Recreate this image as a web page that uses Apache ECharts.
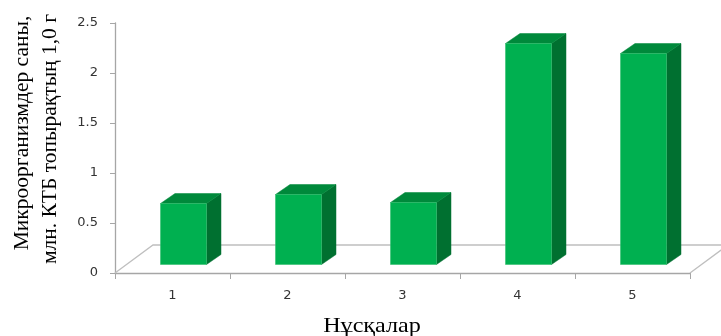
<!DOCTYPE html>
<html>
<head>
<meta charset="utf-8">
<script src="https://cdn.jsdelivr.net/npm/echarts@6/dist/echarts.min.js"></script>
<style>
  html, body { margin: 0; padding: 0; background: #fff; }
  #chart { width: 721px; height: 336px; }
</style>
</head>
<body>
<div id="chart"></div>
<script>
// Variant numbers and microorganism counts (mln CFU per 1.0 g of soil)
const categories = ['1', '2', '3', '4', '5'];
const counts = [0.61, 0.7, 0.62, 2.21, 2.11];
const yTicks = { min: 0, max: 2.5, interval: 0.5 };

const xTitle = 'Нұсқалар';
const yTitleLines = ['Микроорганизмдер саны,', 'млн. КТБ топырақтың 1,0 г'];

// Oblique projection used for the pseudo-3D floor and columns
const FLOOR_DX = 38, FLOOR_DY = -28;     // full depth of the floor
const BAR_SHIFT_X = 11, BAR_SHIFT_Y = -8.5; // columns stand a bit inside the floor
const BAR_DX = 14.5, BAR_DY = -10;       // column depth
const BAR_W = 46;

const FRONT = '#00b050', SIDE = '#007030', TOP = '#00893b';

const chart = echarts.init(document.getElementById('chart'), null, { renderer: 'canvas' });

function renderFloor(params, api) {
  if (params.dataIndex !== 0) return;
  const half = api.size([1, 0])[0] / 2;
  const first = api.coord([0, 0]);
  const last = api.coord([categories.length - 1, 0]);
  const L = first[0] - half, R = last[0] + half, B = first[1];
  return {
    type: 'polyline',
    shape: { points: [[L, B], [L + FLOOR_DX, B + FLOOR_DY], [R + FLOOR_DX, B + FLOOR_DY], [R, B]] },
    style: { stroke: '#bfbfbf', lineWidth: 1.3, fill: null },
    silent: true
  };
}

function renderColumn(params, api) {
  const i = api.value(0), v = api.value(1);
  const base = api.coord([i, 0]);
  const top = api.coord([i, v]);
  const x0 = base[0] + BAR_SHIFT_X - BAR_W / 2;
  const x1 = x0 + BAR_W;
  const yb = base[1] + BAR_SHIFT_Y;
  const yt = top[1] + BAR_SHIFT_Y;
  return {
    type: 'group',
    children: [
      { type: 'polygon', shape: { points: [[x1, yb], [x1 + BAR_DX, yb + BAR_DY], [x1 + BAR_DX, yt + BAR_DY], [x1, yt]] },
        style: { fill: SIDE, stroke: SIDE, lineWidth: 0.5 } },
      { type: 'polygon', shape: { points: [[x0, yt], [x1, yt], [x1 + BAR_DX, yt + BAR_DY], [x0 + BAR_DX, yt + BAR_DY]] },
        style: { fill: TOP, stroke: TOP, lineWidth: 0.5 } },
      { type: 'rect', shape: { x: x0, y: yt, width: BAR_W, height: yb - yt },
        style: { fill: FRONT, stroke: '#35c070', lineWidth: 0.6 } }
    ]
  };
}

const option = {
  backgroundColor: '#ffffff',
  animation: false,
  grid: { left: 115, right: 31, top: 23, bottom: 63 },
  xAxis: {
    type: 'category',
    data: categories,
    boundaryGap: true,
    axisLine: { lineStyle: { color: '#a6a6a6', width: 1.3 } },
    axisTick: { show: true, length: 6, lineStyle: { color: '#a6a6a6' } },
    axisLabel: { margin: 16, color: '#333333', fontFamily: 'DejaVu Sans', fontSize: 13 },
    splitLine: { show: false }
  },
  yAxis: {
    type: 'value',
    min: yTicks.min, max: yTicks.max, interval: yTicks.interval,
    axisLine: { show: true, lineStyle: { color: '#a6a6a6', width: 1.3 } },
    axisTick: { show: true, length: 5, lineStyle: { color: '#a6a6a6' } },
    axisLabel: { margin: 17, color: '#333333', fontFamily: 'DejaVu Sans', fontSize: 13,
      formatter: v => String(v) },
    splitLine: { show: false }
  },
  series: [
    { type: 'custom', renderItem: renderFloor, data: [[0, 0]], z: 1, silent: true },
    { type: 'custom', renderItem: renderColumn,
      data: counts.map((v, i) => [i, v]), encode: { x: 0, y: 1 }, z: 2 }
  ],
  graphic: [
    { type: 'text', x: 22, y: 133, rotation: Math.PI / 2,
      style: { text: yTitleLines[0], font: '21.5px "Liberation Serif"', fill: '#000',
        textAlign: 'center', textVerticalAlign: 'middle' } },
    { type: 'text', x: 50, y: 139, rotation: Math.PI / 2,
      style: { text: yTitleLines[1], font: '21.5px "Liberation Serif"', fill: '#000',
        textAlign: 'center', textVerticalAlign: 'middle' } },
    { type: 'text', x: 372, y: 326, scaleX: 1.15,
      style: { text: xTitle, font: '21px "Liberation Serif"', fill: '#000',
        textAlign: 'center', textVerticalAlign: 'middle' } }
  ]
};

chart.setOption(option);
</script>
</body>
</html>
